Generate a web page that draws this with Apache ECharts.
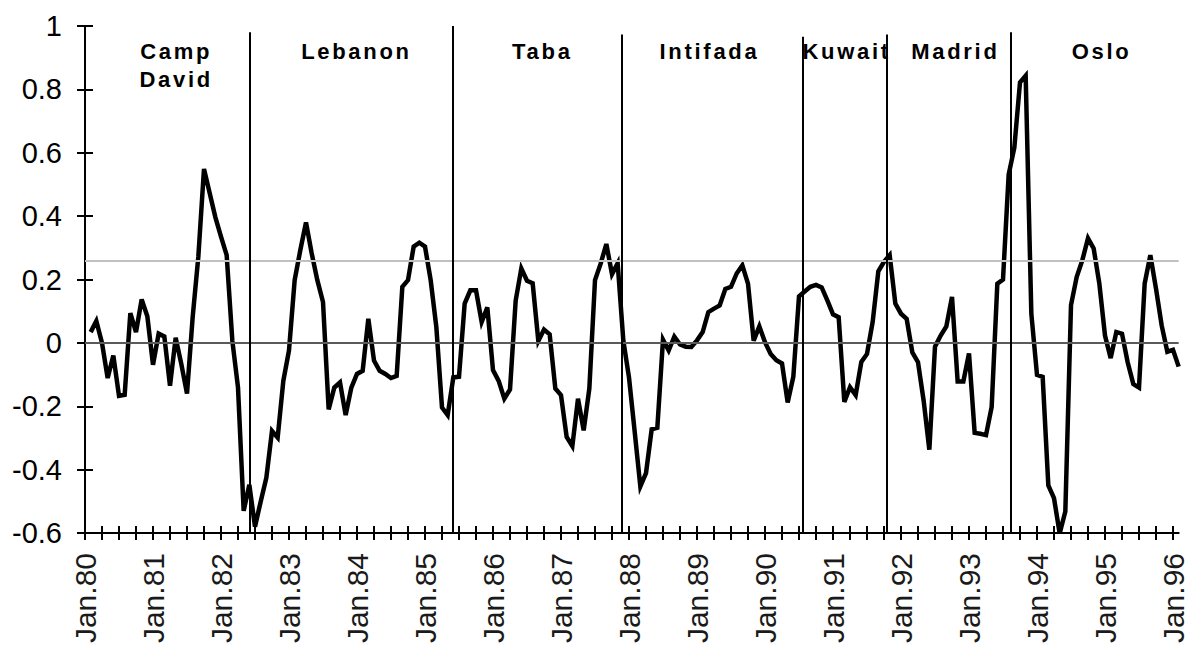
<!DOCTYPE html>
<html>
<head>
<meta charset="utf-8">
<title>Index</title>
<script src="https://cdn.jsdelivr.net/npm/echarts@6/dist/echarts.min.js"></script>
<style>
  html, body { margin: 0; padding: 0; background: #fff; }
  #chart { width: 1188px; height: 653px; }
  /* the event names are printed with wide letter spacing */
  #chart text[style*="bold"] { letter-spacing: 2.7px; }
</style>
</head>
<body>
<div id="chart"></div>
<script>
var monthNames = ['Jan', 'Feb', 'Mar', 'Apr', 'May', 'Jun', 'Jul', 'Aug', 'Sep', 'Oct', 'Nov', 'Dec'];
var firstYear = 1980;
var lastYear = 1996;

// monthly index, Feb.80 .. Feb.96
var indexValues = [
  0.034, 0.069, 0.0, -0.111, -0.040, -0.167, -0.164, 0.094, 0.034, 0.137, 0.084, -0.069,
  0.029, 0.020, -0.135, 0.016, -0.067, -0.160, 0.081, 0.272, 0.549, 0.473, 0.397, 0.335,
  0.277, 0.007, -0.141, -0.530, -0.448, -0.580, -0.501, -0.426, -0.278, -0.299, -0.120, -0.024,
  0.198, 0.293, 0.380, 0.283, 0.198, 0.129, -0.210, -0.141, -0.125, -0.228, -0.141, -0.098,
  -0.088, 0.076, -0.056, -0.088, -0.098, -0.111, -0.104, 0.177, 0.198, 0.304, 0.316, 0.304,
  0.198, 0.050, -0.204, -0.228, -0.109, -0.107, 0.124, 0.166, 0.166, 0.066, 0.112, -0.086,
  -0.120, -0.176, -0.147, 0.133, 0.235, 0.196, 0.188, 0.006, 0.042, 0.027, -0.144, -0.165,
  -0.297, -0.326, -0.176, -0.276, -0.144, 0.198, 0.250, 0.312, 0.217, 0.251, 0.007, -0.109,
  -0.280, -0.453, -0.411, -0.273, -0.268, 0.010, -0.024, 0.020, -0.005, -0.012, -0.013, 0.008,
  0.034, 0.097, 0.108, 0.118, 0.170, 0.177, 0.219, 0.245, 0.187, 0.007, 0.052, 0.002,
  -0.035, -0.055, -0.065, -0.188, -0.107, 0.147, 0.162, 0.177, 0.183, 0.175, 0.134, 0.090,
  0.081, -0.186, -0.140, -0.165, -0.060, -0.035, 0.066, 0.226, 0.256, 0.277, 0.124, 0.092,
  0.076, -0.030, -0.061, -0.183, -0.337, -0.012, 0.023, 0.052, 0.145, -0.122, -0.122, -0.033,
  -0.284, -0.287, -0.291, -0.202, 0.187, 0.200, 0.531, 0.616, 0.822, 0.843, 0.092, -0.101,
  -0.107, -0.450, -0.490, -0.601, -0.532, 0.119, 0.208, 0.261, 0.330, 0.298, 0.187, 0.023,
  -0.048, 0.034, 0.029, -0.061, -0.130, -0.141, 0.187, 0.277, 0.171, 0.055, -0.028, -0.022,
  -0.075
];

var referenceLevel = 0.26;

// event periods: boundaries in months after Jan.80
var eventBreaks = [29.0, 64.9, 94.8, 126.6, 141.4, 163.3];
var eventBreakTops = [0.98, 1.0, 0.973, 0.966, 0.973, 0.98];
var eventNames = ['Camp\nDavid', 'Lebanon', 'Taba', 'Intifada', 'Kuwait', 'Madrid', 'Oslo'];
var eventLabelAt = [16.1, 47.9, 80.7, 110.2, 134.4, 153.6, 179.4];
var eventLabelY = [0.874, 0.918, 0.918, 0.918, 0.918, 0.918, 0.918];

var months = [];
for (var y = firstYear; y <= lastYear; y++) {
  for (var m = 0; m < 12; m++) {
    if (y === lastYear && m > 1) break;
    months.push(monthNames[m] + '.' + String(y).slice(2));
  }
}

var chart = echarts.init(document.getElementById('chart'), null, { renderer: 'svg' });

var fontName = 'Liberation Sans';
var lastPos = months.length - 1;

var option = {
  animation: false,
  backgroundColor: '#fff',
  grid: { left: 85, right: 0, top: 26, bottom: 120 },
  xAxis: [
    {
      type: 'category',
      data: months,
      boundaryGap: false,
      axisLine: { onZero: false, lineStyle: { color: '#000', width: 2 } },
      axisTick: { interval: 2, length: 7, lineStyle: { color: '#000', width: 2 } },
      axisLabel: {
        interval: 11, rotate: 90, margin: 20,
        fontFamily: fontName, fontSize: 30, color: '#1a1a1a',
        padding: [0, 0, 12, 0]
      },
      splitLine: { show: false }
    },
    {
      type: 'category',
      data: months,
      boundaryGap: false,
      position: 'bottom',
      axisLine: { show: false, onZero: false },
      axisTick: { inside: true, interval: 2, length: 7, lineStyle: { color: '#000', width: 2 } },
      axisLabel: { show: false },
      splitLine: { show: false }
    },
    {
      type: 'value', min: 0, max: lastPos, show: false
    }
  ],
  yAxis: [
    {
      type: 'value', min: -0.6, max: 1, interval: 0.2,
      axisLine: { show: true, onZero: false, lineStyle: { color: '#000', width: 2 } },
      axisTick: { show: true, length: 8, lineStyle: { color: '#000', width: 2 } },
      axisLabel: { fontFamily: fontName, fontSize: 29, color: '#000', margin: 23 },
      splitLine: { show: false }
    },
    {
      type: 'value', min: -0.6, max: 1, interval: 0.2, position: 'left',
      axisLine: { show: false, onZero: false },
      axisTick: { show: true, inside: true, length: 8, lineStyle: { color: '#000', width: 2 } },
      axisLabel: { show: false },
      splitLine: { show: false }
    }
  ],
  series: [
    {
      // guide lines, period boundaries and period names
      type: 'scatter',
      xAxisIndex: 2,
      yAxisIndex: 0,
      data: [],
      z: 1,
      markLine: {
        silent: true,
        symbol: 'none',
        label: { show: false },
        data: [
          { yAxis: 0, lineStyle: { color: '#5a5a5a', width: 2, type: 'solid' } },
          { yAxis: referenceLevel, lineStyle: { color: '#c0c0c0', width: 2, type: 'solid' } }
        ].concat(eventBreaks.map(function (b, k) {
          return [
            { coord: [b, eventBreakTops[k]], lineStyle: { color: '#000', width: 2, type: 'solid' } },
            { coord: [b, -0.6] }
          ];
        }))
      },
      markPoint: {
        silent: true,
        symbol: 'circle',
        symbolSize: 0,
        label: {
          show: true, position: 'inside', color: '#000',
          fontFamily: fontName, fontWeight: 'bold', fontSize: 22, lineHeight: 28,
          formatter: function (p) { return p.name; }
        },
        data: eventNames.map(function (n, k) {
          return { name: n, coord: [eventLabelAt[k], eventLabelY[k]] };
        })
      }
    },
    {
      type: 'line',
      xAxisIndex: 0,
      yAxisIndex: 0,
      z: 3,
      showSymbol: false,
      lineStyle: { color: '#000', width: 4.5, join: 'miter', cap: 'butt' },
      data: indexValues.map(function (v, k) { return [months[k + 1], v]; })
    }
  ]
};

chart.setOption(option);
</script>
</body>
</html>
